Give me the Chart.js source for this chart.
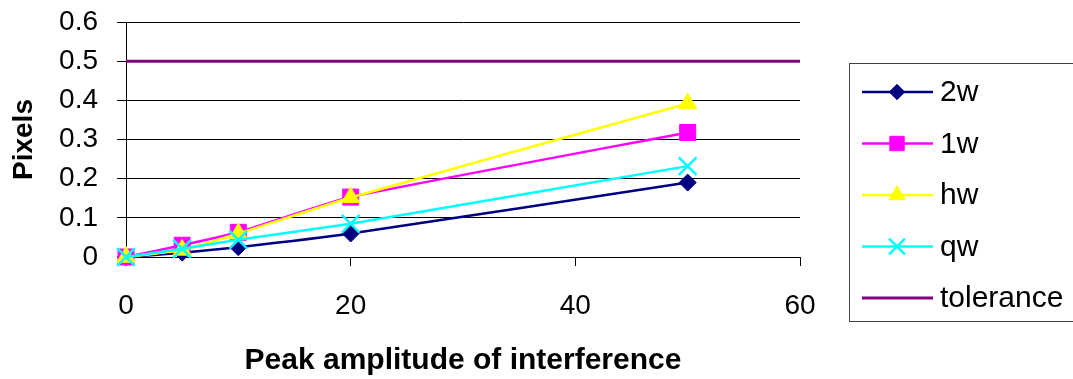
<!DOCTYPE html>
<html lang="en">
<head>
<meta charset="UTF-8">
<title>Pixels vs peak amplitude</title>
<script src="https://cdn.jsdelivr.net/npm/chart.js@4"></script>
<style>
* { margin: 0; padding: 0; box-sizing: border-box; }
body { background: #fff; }
.wrap { width: 1073px; height: 379px; position: relative; }
</style>
</head>
<body>
<div class="wrap"><canvas id="chart" width="1073" height="379"></canvas></div>
<script>
// data
var amplitude = [0, 5, 10, 20, 50];
var w2 = [0, 0.011, 0.025, 0.06, 0.19];
var w1 = [0, 0.03, 0.063, 0.153, 0.318];
var hw = [0, 0.018, 0.06, 0.152, 0.392];
var qw = [0, 0.021, 0.044, 0.085, 0.232];
var toleranceX = [0, 60];
var toleranceY = [0.5, 0.5];
var yTicks = [0, 0.1, 0.2, 0.3, 0.4, 0.5, 0.6];
var xTicks = [0, 20, 40, 60];

function pts(xs, ys) {
    return xs.map(function (x, i) { return { x: x, y: ys[i] }; });
}

var FONT = "'Liberation Sans', Arial, sans-serif";

function series(label, data, color, style, radius, order) {
    return {
        label: label,
        data: data,
        borderColor: color,
        backgroundColor: color,
        borderWidth: 2.5,
        pointStyle: style,
        pointRadius: radius,
        pointBorderWidth: style === 'crossRot' ? 2.5 : 1,
        tension: 0.15,
        clip: false,
        order: order
    };
}

// legend drawn by hand inside a bordered box on the right
var legendBox = {
    id: 'legendBox',
    afterDraw: function (chart) {
        var ctx = chart.ctx;
        ctx.save();
        ctx.strokeStyle = '#404040';
        ctx.lineWidth = 1;
        ctx.strokeRect(849.5, 63.5, 240, 258);
        chart.data.datasets.forEach(function (ds, i) {
            var y = 92 + i * 51.5;
            ctx.strokeStyle = ds.borderColor;
            ctx.lineWidth = ds.borderWidth;
            ctx.beginPath();
            ctx.moveTo(862, y);
            ctx.lineTo(933, y);
            ctx.stroke();
            if (ds.pointRadius > 0) {
                ctx.fillStyle = ds.backgroundColor;
                ctx.lineWidth = ds.pointBorderWidth;
                Chart.helpers.drawPoint(ctx, {
                    pointStyle: ds.pointStyle,
                    radius: ds.pointRadius * 0.9,
                    borderWidth: ds.pointBorderWidth,
                    rotation: 0
                }, 897, y);
            }
            ctx.fillStyle = '#000';
            ctx.font = '30px ' + FONT;
            ctx.textBaseline = 'middle';
            ctx.textAlign = 'left';
            ctx.fillText(ds.label, 940, y + 1);
        });
        ctx.restore();
    }
};

new Chart(document.getElementById('chart'), {
    type: 'line',
    data: {
        datasets: [
            series('2w', pts(amplitude, w2), '#000080', 'rectRot', 8.5, 5),
            series('1w', pts(amplitude, w1), '#FF00FF', 'rect', 11.3, 4),
            series('hw', pts(amplitude, hw), '#FFFF00', 'triangle', 10.4, 3),
            series('qw', pts(amplitude, qw), '#00FFFF', 'crossRot', 12.5, 2),
            {
                label: 'tolerance',
                data: pts(toleranceX, toleranceY),
                borderColor: '#800080',
                backgroundColor: '#800080',
                borderWidth: 3,
                pointRadius: 0,
                clip: false,
                order: 1
            }
        ]
    },
    options: {
        responsive: false,
        animation: false,
        layout: { padding: { top: 22, right: 273, left: 0, bottom: 0 } },
        plugins: { legend: { display: false }, tooltip: { enabled: false } },
        scales: {
            x: {
                type: 'linear',
                min: 0,
                max: 60,
                afterFit: function (s) { s.height = 122; s.paddingLeft = 0; s.paddingRight = 0; },
                afterBuildTicks: function (s) { s.ticks = xTicks.map(function (v) { return { value: v }; }); },
                grid: { drawOnChartArea: false, drawTicks: true, tickLength: 9, color: '#000' },
                border: { color: '#000', width: 1 },
                ticks: { color: '#000', padding: 23, maxRotation: 0, font: { family: FONT, size: 28 } },
                title: {
                    display: true,
                    text: 'Peak amplitude of interference',
                    color: '#000',
                    padding: { top: 0, bottom: 0 },
                    font: { family: FONT, size: 30, weight: 'bold' }
                }
            },
            y: {
                min: 0,
                max: 0.6,
                afterFit: function (s) { s.width = 126; s.paddingTop = 0; s.paddingBottom = 0; },
                afterBuildTicks: function (s) { s.ticks = yTicks.map(function (v) { return { value: v }; }); },
                grid: { color: '#000', tickLength: 9, lineWidth: 1 },
                border: { color: '#000', width: 1 },
                ticks: {
                    color: '#000',
                    padding: 19,
                    font: { family: FONT, size: 28 },
                    callback: function (v) { return String(Math.round(v * 10) / 10); }
                },
                title: {
                    display: true,
                    text: 'Pixels',
                    color: '#000',
                    padding: { top: 7, bottom: 0 },
                    font: { family: FONT, size: 28, weight: 'bold' }
                }
            }
        }
    },
    plugins: [legendBox]
});
</script>
</body>
</html>
